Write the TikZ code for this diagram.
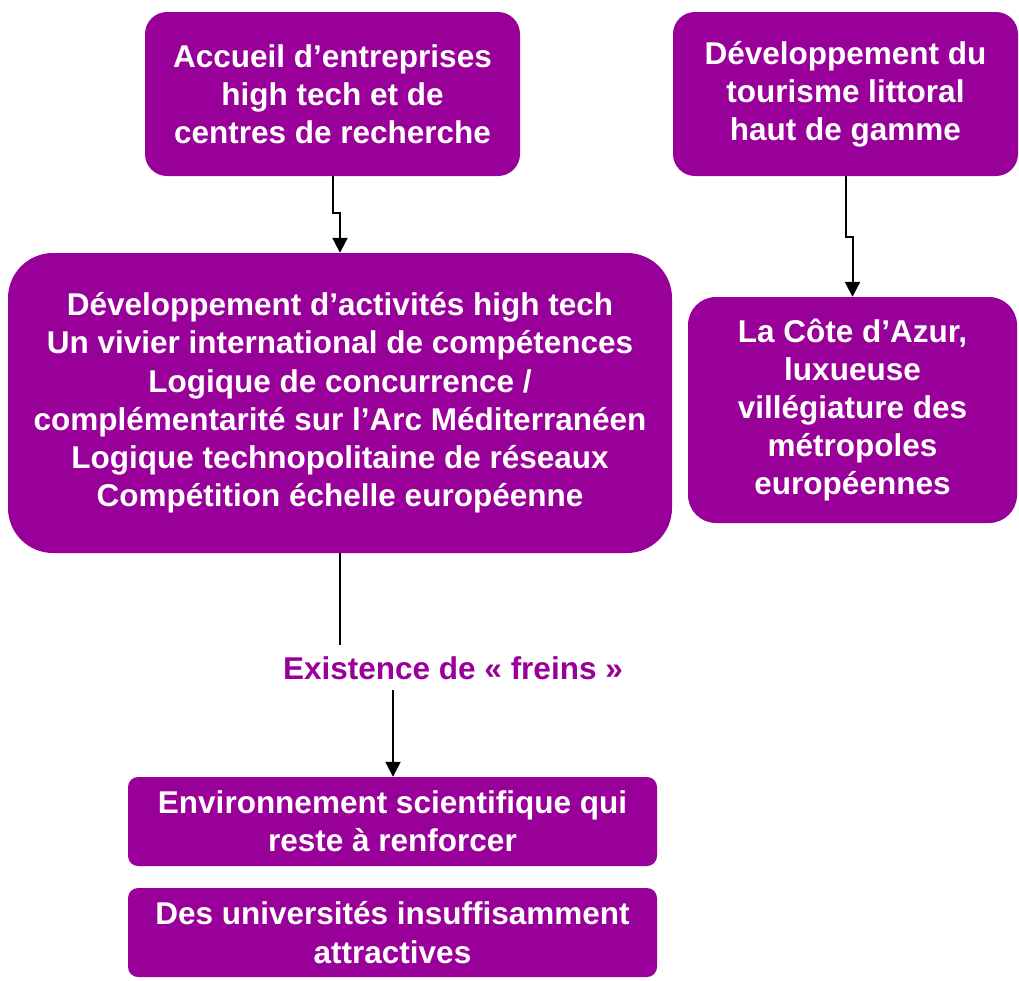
\documentclass[tikz,border=0pt]{standalone}
\usepackage{fontspec}
\setmainfont{Liberation Sans}
\usetikzlibrary{arrows.meta}
\definecolor{purp}{HTML}{990099}
\begin{document}
\begin{tikzpicture}[x=1pt,y=1pt,
  box/.style={fill=purp, draw=none, text=white, align=center,
    font=\bfseries\fontsize{31.5}{38.2}\selectfont, inner sep=0pt},
  arr/.style={line width=2pt, -{Triangle[width=15pt,length=15pt]}},
  ln/.style={line width=2pt}]
\useasboundingbox (0,0) rectangle (1019,-980);
\node[box, rounded corners=22pt, minimum width=375pt, minimum height=164pt] (a1) at (332.5,-94)
  {Accueil d’entreprises\\high tech et de\\centres de recherche};
\node[box, rounded corners=22pt, minimum width=345pt, minimum height=164pt] (a2) at (845.5,-94)
  {Développement du\\tourisme littoral\\haut de gamme};
\node[box, rounded corners=45pt, minimum width=664pt, minimum height=300pt] (b3) at (340,-403)
  {Développement d’activités high tech\\Un vivier international de compétences\\Logique de concurrence /\\complémentarité sur l’Arc Méditerranéen\\Logique technopolitaine de réseaux\\Compétition échelle européenne};
\node[box, rounded corners=28pt, minimum width=329pt, minimum height=226pt] (b4) at (852.5,-410)
  {La Côte d’Azur,\\luxueuse\\villégiature des\\métropoles\\européennes};
\node[box, rounded corners=10pt, minimum width=529pt, minimum height=89pt] (b5) at (392.5,-821.5)
  {Environnement scientifique qui\\reste à renforcer};
\node[box, rounded corners=10pt, minimum width=529pt, minimum height=89pt] (b6) at (392.5,-932.5)
  {Des universités insuffisamment\\attractives};
\node[text=purp, font=\bfseries\fontsize{31.5}{38.2}\selectfont, inner sep=0pt] (ex) at (453,-668)
  {Existence de « freins »};
\coordinate (e1) at (340,-645);
\coordinate (e2) at (393,-690);
\draw[arr] (a1.south) -- ++(0,-37) -| (b3.north);
\draw[arr] (a2.south) -- ++(0,-61) -| (b4.north);
\draw[ln] (b3.south) -- (e1);
\draw[arr] (e2) -- (e2 |- b5.north);
\end{tikzpicture}
\end{document}
